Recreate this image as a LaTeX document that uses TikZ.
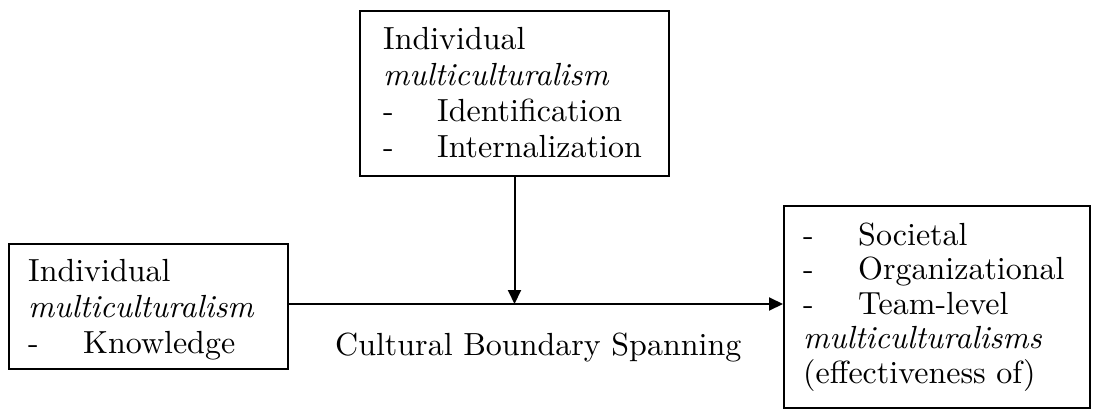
\documentclass[tikz,border=0pt]{standalone}
\usepackage{fontspec}
\setmainfont{lmroman10-regular.otf}[ItalicFont=lmroman10-italic.otf]
\usetikzlibrary{arrows.meta}
\begin{document}
\begin{tikzpicture}[x=1pt,y=-1pt,
  box/.style={draw, line width=2pt, inner sep=0pt, anchor=north west},
  line/.style={anchor=base west, inner sep=0pt, font=\fontsize{32}{36}\selectfont},
  flow/.style={line width=2pt, -{Triangle[length=14pt,width=13pt]}}]
\useasboundingbox (0,0) rectangle (1093,410);

% boxes
\node[box, minimum width=309pt, minimum height=165pt] (top) at (359,10) {};
\node[box, minimum width=279pt, minimum height=125pt] (left) at (8,243) {};
\node[box, minimum width=306pt, minimum height=202pt] (right) at (783,205) {};

% top box text
\node[line] (t1) at (383,49) {Individual};
\node[line] (t2) at (383,85) {\itshape multiculturalism};
\node[line] (t3d) at (383,121) {-};
\node[line] (t3) at (437,121) {Identification};
\node[line] (t4d) at (383,157) {-};
\node[line] (t4) at (437,157) {Internalization};

% left box text
\node[line] (l1) at (28,281) {Individual};
\node[line] (l2) at (28,317) {\itshape multiculturalism};
\node[line] (l3d) at (28,353) {-};
\node[line] (l3) at (83,353) {Knowledge};

% right box text
\node[line] (r1d) at (803,245) {-};
\node[line] (r1) at (858,245) {Societal};
\node[line] (r2d) at (803,279.5) {-};
\node[line] (r2) at (858,279.5) {Organizational};
\node[line] (r3d) at (803,314) {-};
\node[line] (r3) at (858,314) {Team-level};
\node[line] (r4) at (803,348.5) {\itshape multiculturalisms};
\node[line] (r5) at (803,383) {(effectiveness of)};

% label under the main arrow
\node[line] (lab) at (335,355) {Cultural Boundary Spanning};

% connectors
\coordinate (meet) at (left.east |- 0,304);
\coordinate (join) at (top.south |- 0,304);
\draw[flow] (meet) -- (right.west |- meet);
\draw[flow] (top.south) -- (join);
\end{tikzpicture}
\end{document}
